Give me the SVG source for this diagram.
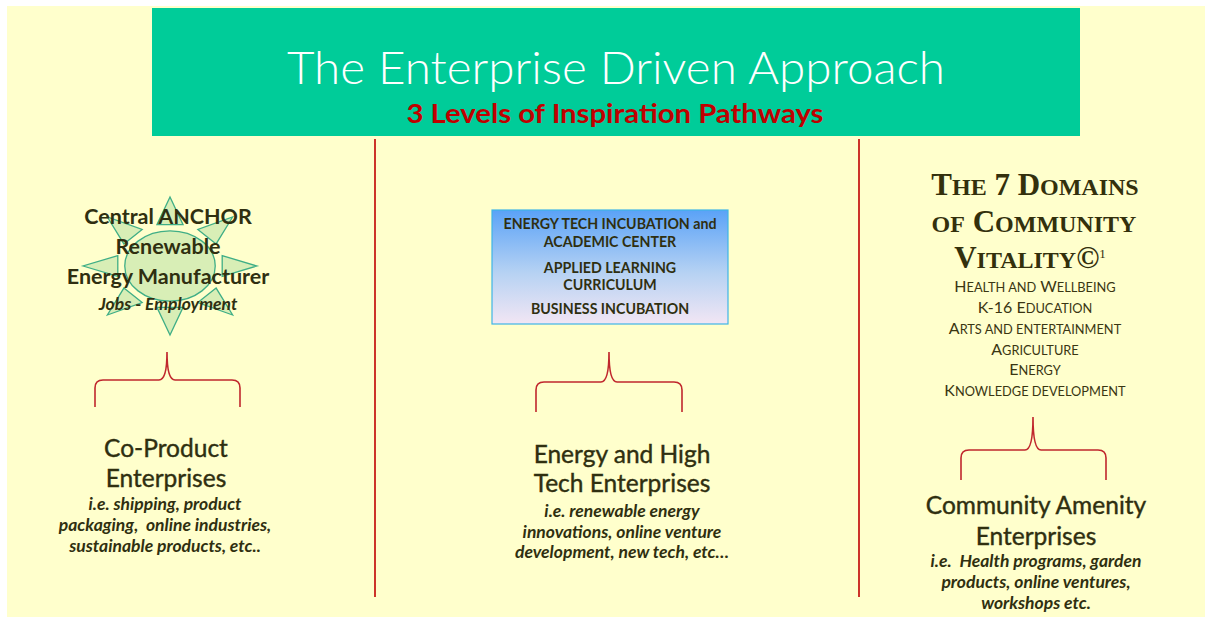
<svg xmlns="http://www.w3.org/2000/svg" width="1205" height="617" viewBox="0 0 1205 617">
<style>
.t{font-family:Lato,"Liberation Sans",sans-serif;fill:#2f2f10;text-anchor:middle}
.h{font-size:24.5px;font-weight:400;stroke:#2f2f10;stroke-width:0.4}
.i{font-size:17.5px;font-style:italic;font-weight:700}
.bx{font-size:14.2px;font-weight:700}
.sc{font-family:"Liberation Serif",serif;fill:#33300c;font-weight:700;text-anchor:middle}
.ls{font-family:Lato,"Liberation Sans",sans-serif;fill:#3a3612;text-anchor:middle}
.brace{fill:none;stroke:#c0272d;stroke-width:1.6}
.vl{stroke:#c00000;stroke-width:1.6}
.ray{fill:#d8eeb6;stroke:#3fae86;stroke-width:1.3;vector-effect:non-scaling-stroke}
</style>
<defs>
<linearGradient id="bg" x1="0" y1="0" x2="0" y2="1">
<stop offset="0" stop-color="#5aa2f7"/>
<stop offset="0.55" stop-color="#b6d2f3"/>
<stop offset="1" stop-color="#f2e6f4"/>
</linearGradient>
</defs>
<rect x="0" y="0" width="1205" height="617" fill="#ffffff"/>
<rect x="7" y="6" width="1198" height="611" fill="#ffffcc"/>
<g id="header">
<rect x="152" y="8" width="928" height="128" fill="#00cc99"/>
<text x="616" y="84" font-family="Lato,'Liberation Sans',sans-serif" font-weight="300" font-size="46" fill="#ffffff" text-anchor="middle" textLength="658" lengthAdjust="spacingAndGlyphs">The Enterprise Driven Approach</text>
<text x="615" y="123" font-family="Lato,'Liberation Sans',sans-serif" font-weight="700" font-size="26" fill="#c00000" text-anchor="middle" textLength="417" lengthAdjust="spacingAndGlyphs">3 Levels of Inspiration Pathways</text>
</g>
<g id="connectors">
<line class="vl" x1="375" y1="139" x2="375" y2="597"/>
<line class="vl" x1="859" y1="139" x2="859" y2="597"/>
<path class="brace" d="M95,407 L95,388 Q95,380 103,380 L159,380 Q167,380 167,352 Q167,380 175,380 L232,380 Q240,380 240,388 L240,407"/>
<path class="brace" d="M536,412 L536,390 Q536,382 544,382 L601,382 Q609,382 609,352 Q609,382 617,382 L674,382 Q682,382 682,390 L682,412"/>
<path class="brace" d="M961,480 L961,458 Q961,450 969,450 L1025,450 Q1033,450 1033,417 Q1033,450 1041,450 L1098,450 Q1106,450 1106,458 L1106,480"/>
</g>
<g id="anchor">
<g transform="translate(170,266) scale(87,69)">
<polygon class="ray" points="0,-1 0.15,-0.6 -0.15,-0.6"/>
<polygon class="ray" points="0,1 0.15,0.6 -0.15,0.6"/>
<polygon class="ray" points="1,0 0.6,0.15 0.6,-0.15"/>
<polygon class="ray" points="-1,0 -0.6,0.15 -0.6,-0.15"/>
<polygon class="ray" points="0.72,-0.71 0.53,-0.32 0.32,-0.53"/>
<polygon class="ray" points="0.72,0.71 0.32,0.53 0.53,0.32"/>
<polygon class="ray" points="-0.72,0.71 -0.32,0.53 -0.53,0.32"/>
<polygon class="ray" points="-0.72,-0.71 -0.53,-0.32 -0.32,-0.53"/>
<ellipse class="ray" cx="0" cy="0" rx="0.52" ry="0.51"/>
</g>
<text class="t" font-size="21.5" font-weight="700" x="168" y="224">Central ANCHOR</text>
<text class="t" font-size="21.5" font-weight="700" x="168" y="254">Renewable</text>
<text class="t" font-size="21.5" font-weight="700" x="168" y="284">Energy Manufacturer</text>
<text class="t i" x="168" y="310" font-size="17">Jobs - Employment</text>
</g>
<g id="incubation">
<rect x="492" y="210" width="236" height="114" fill="url(#bg)" stroke="#3fb5e6" stroke-width="1.2"/>
<text class="t bx" x="610" y="229">ENERGY TECH INCUBATION and</text>
<text class="t bx" x="610" y="247">ACADEMIC CENTER</text>
<text class="t bx" x="610" y="273">APPLIED LEARNING</text>
<text class="t bx" x="610" y="290">CURRICULUM</text>
<text class="t bx" x="610" y="314">BUSINESS INCUBATION</text>
</g>
<g id="domains">
<text class="sc" x="1035" y="195" font-size="31">T<tspan font-size="24">HE</tspan> 7 D<tspan font-size="24">OMAINS</tspan></text>
<text class="sc" x="1034" y="232" font-size="31"><tspan font-size="24">OF</tspan> C<tspan font-size="24">OMMUNITY</tspan></text>
<text class="sc" x="1030" y="268" font-size="31">V<tspan font-size="24">ITALITY</tspan>©<tspan font-size="13" font-weight="400" dy="-10">1</tspan></text>
<text class="ls" x="1035" y="292" font-size="16">H<tspan font-size="12.8">EALTH AND</tspan> W<tspan font-size="12.8">ELLBEING</tspan></text>
<text class="ls" x="1035" y="313" font-size="16">K-16 E<tspan font-size="12.8">DUCATION</tspan></text>
<text class="ls" x="1035" y="334" font-size="16">A<tspan font-size="12.8">RTS AND ENTERTAINMENT</tspan></text>
<text class="ls" x="1035" y="355" font-size="16">A<tspan font-size="12.8">GRICULTURE</tspan></text>
<text class="ls" x="1035" y="375" font-size="16">E<tspan font-size="12.8">NERGY</tspan></text>
<text class="ls" x="1035" y="396" font-size="16">K<tspan font-size="12.8">NOWLEDGE DEVELOPMENT</tspan></text>
</g>
<g id="coproduct">
<text class="t h" x="166" y="457">Co-Product</text>
<text class="t h" x="166" y="487">Enterprises</text>
<text class="t i" x="165" y="510">i.e. shipping, product</text>
<text class="t i" x="165" y="531" xml:space="preserve">packaging,  online industries,</text>
<text class="t i" x="165" y="552">sustainable products, etc..</text>
</g>
<g id="hightech">
<text class="t h" x="622" y="463">Energy and High</text>
<text class="t h" x="622" y="492">Tech Enterprises</text>
<text class="t i" x="622" y="517">i.e. renewable energy</text>
<text class="t i" x="622" y="538">innovations, online venture</text>
<text class="t i" x="622" y="558">development, new tech, etc…</text>
</g>
<g id="amenity">
<text class="t h" x="1036" y="514">Community Amenity</text>
<text class="t h" x="1036" y="545">Enterprises</text>
<text class="t i" x="1036" y="567" xml:space="preserve">i.e.  Health programs, garden</text>
<text class="t i" x="1036" y="588">products, online ventures,</text>
<text class="t i" x="1036" y="609">workshops etc.</text>
</g>
</svg>
